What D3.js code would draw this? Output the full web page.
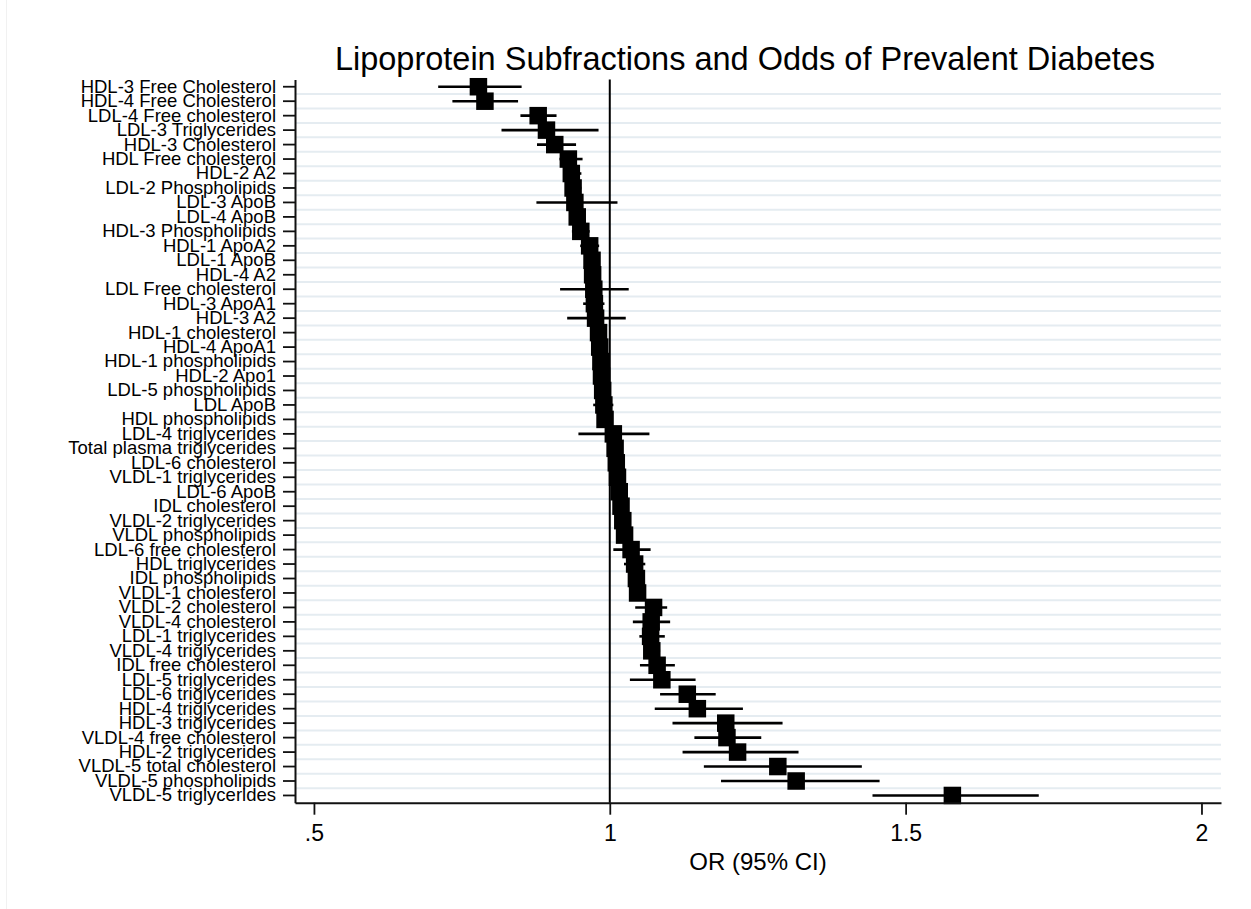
<!DOCTYPE html>
<html>
<head>
<meta charset="utf-8">
<script src="https://cdn.jsdelivr.net/npm/d3@7"></script>
<style>
  html, body { margin: 0; padding: 0; background: #fff; }
  svg { display: block; font-family: "Liberation Sans", Arial, Helvetica, sans-serif; }
</style>
</head>
<body>
<svg id="chart" width="1251" height="909"></svg>
<script>
// ---- Data ----
const labels = [
  "HDL-3 Free Cholesterol", "HDL-4 Free Cholesterol", "LDL-4 Free cholesterol", "LDL-3 Triglycerides",
  "HDL-3 Cholesterol", "HDL Free cholesterol", "HDL-2 A2", "LDL-2 Phospholipids", "LDL-3 ApoB",
  "LDL-4 ApoB", "HDL-3 Phospholipids", "HDL-1 ApoA2", "LDL-1 ApoB", "HDL-4 A2", "LDL Free cholesterol",
  "HDL-3 ApoA1", "HDL-3 A2", "HDL-1 cholesterol", "HDL-4 ApoA1", "HDL-1 phospholipids", "HDL-2 Apo1",
  "LDL-5 phospholipids", "LDL ApoB", "HDL phospholipids", "LDL-4 triglycerides",
  "Total plasma triglycerides", "LDL-6 cholesterol", "VLDL-1 triglycerides", "LDL-6 ApoB",
  "IDL cholesterol", "VLDL-2 triglycerides", "VLDL phospholipids", "LDL-6 free cholesterol",
  "HDL triglycerides", "IDL phospholipids", "VLDL-1 cholesterol", "VLDL-2 cholesterol",
  "VLDL-4 cholesterol", "LDL-1 triglycerides", "VLDL-4 triglycerides", "IDL free cholesterol",
  "LDL-5 triglycerides", "LDL-6 triglycerides", "HDL-4 triglycerides", "HDL-3 triglycerides",
  "VLDL-4 free cholesterol", "HDL-2 triglycerides", "VLDL-5 total cholesterol",
  "VLDL-5 phospholipids", "VLDL-5 triglycerides"
];
const oddsRatio = [
  0.778, 0.789, 0.879, 0.893, 0.907, 0.930, 0.935, 0.938, 0.941, 0.945,
  0.951, 0.966, 0.970, 0.971, 0.973, 0.974, 0.976, 0.981, 0.983, 0.985,
  0.986, 0.988, 0.990, 0.992, 1.006, 1.009, 1.011, 1.013, 1.016, 1.019,
  1.022, 1.025, 1.036, 1.042, 1.045, 1.047, 1.074, 1.070, 1.069, 1.071,
  1.080, 1.088, 1.131, 1.148, 1.196, 1.198, 1.216, 1.284, 1.315, 1.579
];
const ciLow = [
  0.710, 0.734, 0.849, 0.817, 0.877, 0.915, 0.921, 0.925, 0.876, 0.932,
  0.936, 0.950, 0.958, 0.959, 0.916, 0.955, 0.928, 0.969, 0.971, 0.972,
  0.974, 0.976, 0.972, 0.980, 0.947, 0.997, 0.999, 1.001, 1.004, 1.007,
  1.010, 1.012, 1.006, 1.024, 1.033, 1.035, 1.043, 1.039, 1.050, 1.058,
  1.051, 1.034, 1.085, 1.076, 1.106, 1.143, 1.123, 1.159, 1.188, 1.444
];
const ciHigh = [
  0.851, 0.845, 0.910, 0.981, 0.943, 0.954, 0.952, 0.952, 1.013, 0.958,
  0.966, 0.982, 0.983, 0.984, 1.032, 0.991, 1.027, 0.994, 0.996, 0.998,
  0.999, 1.001, 1.006, 1.005, 1.067, 1.022, 1.024, 1.026, 1.029, 1.032,
  1.035, 1.038, 1.069, 1.060, 1.058, 1.060, 1.097, 1.102, 1.093, 1.085,
  1.110, 1.145, 1.179, 1.225, 1.292, 1.256, 1.319, 1.426, 1.456, 1.725
];
const xTickValues = [0.5, 1, 1.5, 2];
const xTickLabels = [".5", "1", "1.5", "2"];
const titleText = "Lipoprotein Subfractions and Odds of Prevalent Diabetes";
const xAxisTitle = "OR (95% CI)";
const refValue = 1;

// ---- Layout ----
const svg = d3.select("#chart");
const plot = { left: 295, right: 1221, top: 79.5, bottom: 802.7 };

const x = d3.scaleLinear().domain([0.468, 2.033]).range([plot.left, plot.right]);
const y = d3.scaleBand().domain(labels).range([plot.top, plot.bottom]).padding(0);
const bw = y.bandwidth();
const cy = d => y(d) + bw / 2;

// faint frame line at left
svg.append("line").attr("x1", 6.5).attr("x2", 6.5).attr("y1", 0).attr("y2", 909)
  .attr("stroke", "#f1f1f1").attr("stroke-width", 1);

// gridlines between rows
svg.append("g").selectAll("line")
  .data(labels.slice(1))
  .join("line")
  .attr("x1", plot.left + 1).attr("x2", plot.right)
  .attr("y1", d => y(d)).attr("y2", d => y(d))
  .attr("stroke", "#e5ecf1").attr("stroke-width", 2);

// reference line at OR = 1
svg.append("line")
  .attr("x1", x(refValue)).attr("x2", x(refValue))
  .attr("y1", plot.top).attr("y2", plot.bottom)
  .attr("stroke", "#000").attr("stroke-width", 2);

// CI lines
const rows = labels.map((l, i) => ({ label: l, or: oddsRatio[i], lo: ciLow[i], hi: ciHigh[i] }));
svg.append("g").selectAll("line")
  .data(rows)
  .join("line")
  .attr("x1", d => x(d.lo)).attr("x2", d => x(d.hi))
  .attr("y1", d => cy(d.label)).attr("y2", d => cy(d.label))
  .attr("stroke", "#000").attr("stroke-width", 2.6);

// squares
const sq = 17.5;
svg.append("g").selectAll("rect")
  .data(rows)
  .join("rect")
  .attr("x", d => x(d.or) - sq / 2)
  .attr("y", d => cy(d.label) - sq / 2)
  .attr("width", sq).attr("height", sq)
  .attr("fill", "#000");

// axes
const yAxis = d3.axisLeft(y).tickSize(12).tickSizeOuter(0).tickPadding(7);
const gy = svg.append("g").attr("transform", `translate(${plot.left},0)`).call(yAxis);
gy.selectAll("text").attr("font-size", 18.5).attr("fill", "#000")
  .attr("font-family", "'Liberation Sans', Arial, sans-serif");
gy.selectAll("line").attr("stroke", "#111").attr("stroke-width", 1.8);
gy.select(".domain").attr("stroke", "#111").attr("stroke-width", 2);

const xAxis = d3.axisBottom(x).tickValues(xTickValues)
  .tickFormat((d, i) => xTickLabels[i]).tickSize(12).tickSizeOuter(0).tickPadding(10);
const gx = svg.append("g").attr("transform", `translate(0,${plot.bottom})`).call(xAxis);
gx.selectAll("text").attr("font-size", 23).attr("fill", "#000")
  .attr("font-family", "'Liberation Sans', Arial, sans-serif");
gx.selectAll("line").attr("stroke", "#111").attr("stroke-width", 1.8);
gx.select(".domain").attr("stroke", "#111").attr("stroke-width", 2);

// titles
svg.append("text").attr("x", 745).attr("y", 70).attr("text-anchor", "middle")
  .attr("font-size", 32.5).attr("fill", "#000").text(titleText);
svg.append("text").attr("x", (plot.left + plot.right) / 2).attr("y", 870).attr("text-anchor", "middle")
  .attr("font-size", 24).attr("fill", "#000").text(xAxisTitle);
</script>
</body>
</html>
